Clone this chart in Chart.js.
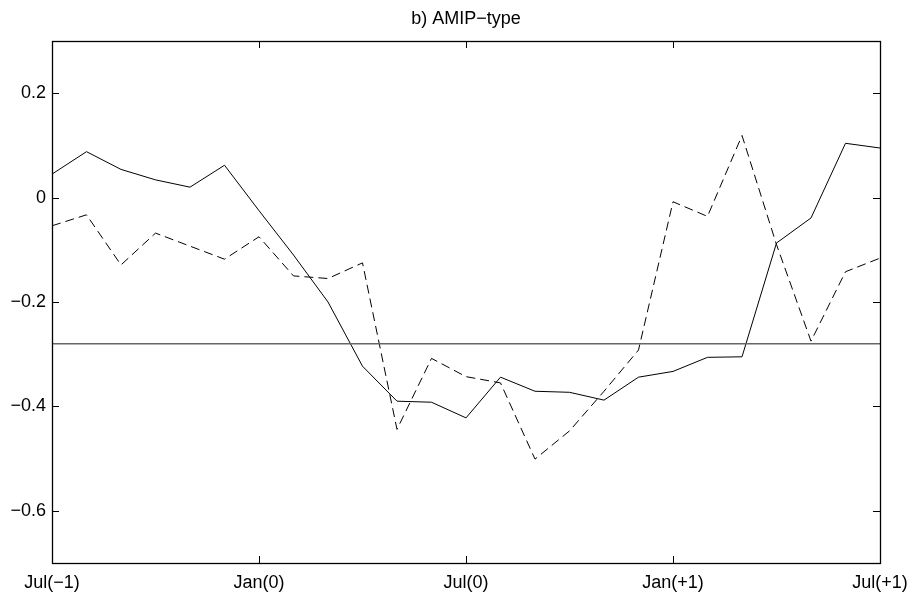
<!DOCTYPE html>
<html>
<head>
<meta charset="utf-8">
<script src="https://cdn.jsdelivr.net/npm/chart.js@4/dist/chart.umd.min.js"></script>
<style>
  html, body { margin: 0; padding: 0; background: #fff; }
  #wrap { width: 911px; height: 598px; }
</style>
</head>
<body>
<div id="wrap"><canvas id="c" width="911" height="598"></canvas></div>
<script>
// Months from July of year -1 to July of year +1
const months = [
  'Jul(\u22121)', 'Aug(\u22121)', 'Sep(\u22121)', 'Oct(\u22121)', 'Nov(\u22121)', 'Dec(\u22121)',
  'Jan(0)', 'Feb(0)', 'Mar(0)', 'Apr(0)', 'May(0)', 'Jun(0)',
  'Jul(0)', 'Aug(0)', 'Sep(0)', 'Oct(0)', 'Nov(0)', 'Dec(0)',
  'Jan(+1)', 'Feb(+1)', 'Mar(+1)', 'Apr(+1)', 'May(+1)', 'Jun(+1)', 'Jul(+1)'
];

// Solid curve
const solidSeries = [
  0.045, 0.088, 0.054, 0.034, 0.020, 0.062, -0.025, -0.110, -0.200, -0.323,
  -0.390, -0.392, -0.422, -0.344, -0.371, -0.373, -0.388, -0.344, -0.333, -0.306,
  -0.305, -0.087, -0.039, 0.104, 0.095
];

// Dashed curve
const dashedSeries = [
  -0.054, -0.033, -0.129, -0.068, -0.093, -0.118, -0.075, -0.150, -0.155, -0.125,
  -0.444, -0.308, -0.343, -0.355, -0.501, -0.447, -0.371, -0.292, -0.008, -0.036,
  0.119, -0.090, -0.275, -0.142, -0.116
];

// Horizontal reference level
const referenceLevel = -0.28;

// Axis ticks
const xTickIndices = [0, 6, 12, 18, 24];
const yTickValues = [-0.6, -0.4, -0.2, 0, 0.2];
const yRange = [-0.7, 0.3];

const fmtY = v => (Math.abs(v) < 1e-9 ? '0' : v.toFixed(1).replace('-', '\u2212'));
const FONT = '"Liberation Sans", Arial, Helvetica, sans-serif';

// Frame and inward tick marks on all four sides
const framePlugin = {
  id: 'frame',
  afterDatasetsDraw(chart) {
    const { ctx, chartArea: a, scales } = chart;
    const len = 7;
    ctx.save();
    ctx.strokeStyle = '#000';
    ctx.lineWidth = 1;
    ctx.beginPath();
    yTickValues.forEach(v => {
      const y = Math.round(scales.y.getPixelForValue(v)) + 0.5;
      ctx.moveTo(a.left, y); ctx.lineTo(a.left + len, y);
      ctx.moveTo(a.right, y); ctx.lineTo(a.right - len, y);
    });
    xTickIndices.forEach(i => {
      const x = Math.round(scales.x.getPixelForValue(i)) + 0.5;
      ctx.moveTo(x, a.bottom); ctx.lineTo(x, a.bottom - len);
      ctx.moveTo(x, a.top); ctx.lineTo(x, a.top + len);
    });
    ctx.stroke();
    ctx.lineWidth = 1.3;
    ctx.strokeRect(Math.round(a.left) + 0.5, Math.round(a.top) + 0.5,
      Math.round(a.right - a.left), Math.round(a.bottom - a.top));
    ctx.restore();
  }
};

new Chart(document.getElementById('c'), {
  type: 'line',
  data: {
    labels: months,
    datasets: [
      {
        label: 'reference',
        data: months.map(() => referenceLevel),
        borderColor: '#666',
        borderWidth: 1.5,
        pointRadius: 0,
        tension: 0
      },
      {
        label: 'solid',
        data: solidSeries,
        borderColor: '#000',
        borderWidth: 1,
        pointRadius: 0,
        tension: 0
      },
      {
        label: 'dashed',
        data: dashedSeries,
        borderColor: '#000',
        borderWidth: 1,
        borderDash: [9, 5],
        pointRadius: 0,
        tension: 0
      }
    ]
  },
  options: {
    responsive: false,
    animation: false,
    devicePixelRatio: 1,
    layout: { padding: { left: 0, right: 31, top: 0, bottom: 0 } },
    plugins: {
      legend: { display: false },
      tooltip: { enabled: false },
      title: {
        display: true,
        fullSize: false,
        text: 'b) AMIP\u2212type',
        color: '#000',
        font: { family: FONT, size: 18, weight: 'normal' },
        padding: { top: 8, bottom: 11.4 }
      }
    },
    scales: {
      x: {
        type: 'category',
        offset: false,
        grid: { display: false, drawTicks: false },
        border: { display: false },
        ticks: {
          autoSkip: false,
          maxRotation: 0,
          minRotation: 0,
          padding: 9,
          color: '#000',
          font: { family: FONT, size: 18 },
          callback: (val, idx) => (xTickIndices.includes(idx) ? months[idx] : '')
        },
        afterFit: s => { s.height = 35; s.paddingLeft = 0; s.paddingRight = 0; }
      },
      y: {
        min: yRange[0],
        max: yRange[1],
        grid: { display: false, drawTicks: false },
        border: { display: false },
        afterBuildTicks: s => { s.ticks = yTickValues.map(v => ({ value: v })); },
        ticks: {
          padding: 6,
          color: '#000',
          font: { family: FONT, size: 18 },
          callback: v => fmtY(v)
        },
        afterFit: s => { s.width = 52; }
      }
    }
  },
  plugins: [framePlugin]
});
</script>
</body>
</html>
